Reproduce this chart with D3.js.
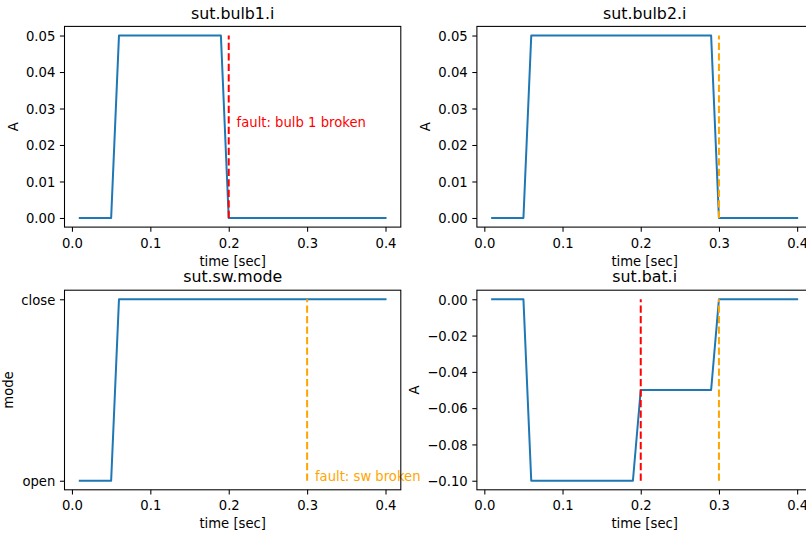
<!DOCTYPE html>
<html>
<head>
<meta charset="utf-8">
<title>sut signals</title>
<style>
body { margin: 0; background: #fff; }
svg { display: block; font-family: "DejaVu Sans", sans-serif; }
.frame { fill: none; stroke: #000; stroke-width: 1.06px; }
.tick line { stroke: #000; stroke-width: 1.06px; }
.tick text { fill: #000; font-size: 13.2px; font-family: "DejaVu Sans", sans-serif; }
.signal { fill: none; stroke: #1f77b4; stroke-width: 2px; stroke-linejoin: round; stroke-linecap: square; }
.fault { stroke-width: 2px; stroke-dasharray: 7.3 3.2; }
</style>
</head>
<body>
<script src="https://cdn.jsdelivr.net/npm/d3@7"></script>
<script>
// sampled signals, one value per time step
var time = [0.01, 0.02, 0.03, 0.04, 0.05, 0.06, 0.07, 0.08, 0.09, 0.10,
            0.11, 0.12, 0.13, 0.14, 0.15, 0.16, 0.17, 0.18, 0.19, 0.20,
            0.21, 0.22, 0.23, 0.24, 0.25, 0.26, 0.27, 0.28, 0.29, 0.30,
            0.31, 0.32, 0.33, 0.34, 0.35, 0.36, 0.37, 0.38, 0.39, 0.40];

var bulb1 = [0, 0, 0, 0, 0, 0.05, 0.05, 0.05, 0.05, 0.05,
             0.05, 0.05, 0.05, 0.05, 0.05, 0.05, 0.05, 0.05, 0.05, 0,
             0, 0, 0, 0, 0, 0, 0, 0, 0, 0,
             0, 0, 0, 0, 0, 0, 0, 0, 0, 0];

var bulb2 = [0, 0, 0, 0, 0, 0.05, 0.05, 0.05, 0.05, 0.05,
             0.05, 0.05, 0.05, 0.05, 0.05, 0.05, 0.05, 0.05, 0.05, 0.05,
             0.05, 0.05, 0.05, 0.05, 0.05, 0.05, 0.05, 0.05, 0.05, 0,
             0, 0, 0, 0, 0, 0, 0, 0, 0, 0];

var swMode = ["open", "open", "open", "open", "open", "close", "close", "close", "close", "close",
              "close", "close", "close", "close", "close", "close", "close", "close", "close", "close",
              "close", "close", "close", "close", "close", "close", "close", "close", "close", "close",
              "close", "close", "close", "close", "close", "close", "close", "close", "close", "close"];

var batI = [0, 0, 0, 0, 0, -0.1, -0.1, -0.1, -0.1, -0.1,
            -0.1, -0.1, -0.1, -0.1, -0.1, -0.1, -0.1, -0.1, -0.1, -0.05,
            -0.05, -0.05, -0.05, -0.05, -0.05, -0.05, -0.05, -0.05, -0.05, 0,
            0, 0, 0, 0, 0, 0, 0, 0, 0, 0];

var modeCategories = ["open", "close"];

// injected faults
var faultTimes = [0.2, 0.3];
var faultNames = ["fault: bulb 1 broken", "fault: sw broken"];

// tick labels
var timeTicks = [0.0, 0.1, 0.2, 0.3, 0.4];
var bulbTicks = [0.00, 0.01, 0.02, 0.03, 0.04, 0.05];
var batTicks = [0.00, -0.02, -0.04, -0.06, -0.08, -0.10];

var width = 806, height = 536;
var tickLen = 4.6, tickPad = 4.6, labelPad = 5.3;
var faultColor = ["red", "orange"];

var cols = [{left: 64.5, width: 336.3}, {left: 476.9, width: 335.5}];
var rows = [{top: 26.4, height: 200.7}, {top: 290.2, height: 199.6}];

var panels = [
  {title: "sut.bulb1.i", ylabel: "A", values: bulb1, ticks: bulbTicks, fmt: d3.format(".2f"),
   row: 0, col: 0, faults: [0], note: {fault: 0, t: 0.21, v: 0.025}},
  {title: "sut.bulb2.i", ylabel: "A", values: bulb2, ticks: bulbTicks, fmt: d3.format(".2f"),
   row: 0, col: 1, faults: [1]},
  {title: "sut.sw.mode", ylabel: "mode", values: swMode.map(function(m) { return modeCategories.indexOf(m); }),
   ticks: [0, 1], fmt: function(i) { return modeCategories[i]; },
   row: 1, col: 0, faults: [1], note: {fault: 1, t: 0.31, v: 0}},
  {title: "sut.bat.i", ylabel: "A", values: batI, ticks: batTicks, fmt: d3.format(".2f"),
   row: 1, col: 1, faults: [0, 1]}
];

var svg = d3.select("body").append("svg")
    .attr("width", width)
    .attr("height", height);

svg.append("rect").attr("width", width).attr("height", height).attr("fill", "#fff");

function padded(ext) {
  var m = (ext[1] - ext[0]) * 0.05;
  return [ext[0] - m, ext[1] + m];
}

panels.forEach(function(p) {
  var c = cols[p.col], r = rows[p.row];
  var g = svg.append("g").attr("transform", "translate(" + c.left + "," + r.top + ")");

  var x = d3.scaleLinear().domain(padded(d3.extent(time))).range([0, c.width]);
  var yExt = d3.extent(p.values);
  var y = d3.scaleLinear().domain(padded(yExt)).range([r.height, 0]);

  // signal
  var line = d3.line()
      .x(function(d, i) { return x(time[i]); })
      .y(function(d) { return y(d); });
  g.append("path")
      .datum(p.values)
      .attr("class", "signal")
      .attr("d", line);

  // fault markers
  p.faults.forEach(function(f) {
    g.append("line")
        .attr("class", "fault")
        .attr("stroke", faultColor[f])
        .attr("x1", x(faultTimes[f])).attr("x2", x(faultTimes[f]))
        .attr("y1", y(yExt[0])).attr("y2", y(yExt[1]));
  });

  if (p.note) {
    g.append("text")
        .attr("x", x(p.note.t))
        .attr("y", y(p.note.v))
        .attr("fill", faultColor[p.note.fault])
        .style("font-size", "13.2px")
        .text(faultNames[p.note.fault]);
  }

  // axes
  var xAxis = g.append("g")
      .attr("transform", "translate(0," + r.height + ")")
      .call(d3.axisBottom(x).tickValues(timeTicks).tickFormat(d3.format(".1f"))
        .tickSize(tickLen).tickPadding(6.6))
      .attr("font-family", null).attr("font-size", null);
  xAxis.select(".domain").remove();

  var yAxis = g.append("g")
      .call(d3.axisLeft(y).tickValues(p.ticks).tickFormat(p.fmt)
        .tickSize(tickLen).tickPadding(tickPad))
      .attr("font-family", null).attr("font-size", null);
  yAxis.select(".domain").remove();
  yAxis.selectAll("text").attr("dy", "0.36em");

  var maxW = d3.max(yAxis.selectAll("text").nodes(), function(n) { return n.getComputedTextLength(); });

  g.append("rect")
      .attr("class", "frame")
      .attr("width", c.width)
      .attr("height", r.height);

  // labels
  g.append("text")
      .attr("x", c.width / 2)
      .attr("y", -7.9)
      .attr("text-anchor", "middle")
      .style("font-size", "15.8px")
      .text(p.title);

  g.append("text")
      .attr("x", c.width / 2)
      .attr("y", r.height + 38.5)
      .attr("text-anchor", "middle")
      .style("font-size", "13.2px")
      .text("time [sec]");

  g.append("text")
      .attr("transform", "translate(" + (-(tickLen + tickPad + maxW + labelPad + 3.1)) + "," + (r.height / 2) + ")rotate(-90)")
      .attr("text-anchor", "middle")
      .style("font-size", "13.2px")
      .text(p.ylabel);
});
</script>
</body>
</html>
